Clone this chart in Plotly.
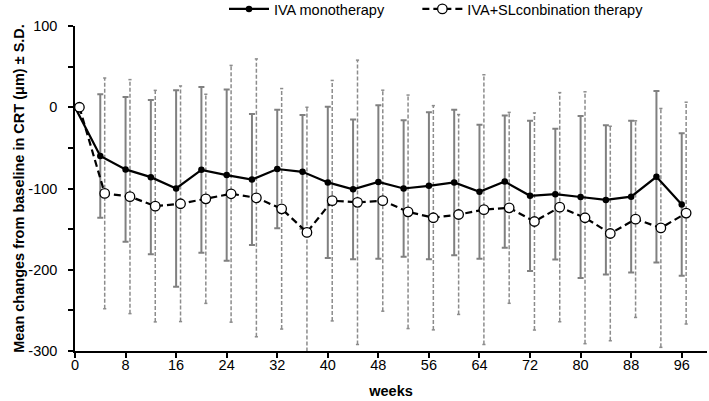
import plotly.graph_objects as go

weeks = [0, 4, 8, 12, 16, 20, 24, 28, 32, 36, 40, 44, 48, 52, 56, 60, 64, 68, 72, 76, 80, 84, 88, 92, 96]
iva_mean = [0, -60, -76.5, -86, -100, -77, -83.5, -89, -76, -79.5, -92.5, -101, -92, -100, -96.7, -92.5,
            -104, -91.5, -109, -107, -110.5, -114, -110, -85.6, -119.7]
iva_sd = [None, 76, 89, 95, 121, 102, 105.5, 80.6, 73, 70, 93, 86, 94.5, 84, 90.4, 89.5,
          82.5, 81.5, 92.4, 80.5, 99.7, 91.7, 93.4, 105.6, 87.7]
combo_mean = [0, -106, -110, -121.7, -118.8, -112.7, -106.5, -111.5, -125, -154, -115, -117, -115, -128.7,
              -136, -132, -126, -123.8, -140.6, -123, -136, -155.4, -137.7, -148.5, -130.3]
combo_sd = [None, 142, 144, 142.5, 145, 128.7, 158, 171, 148, 154, 148, 175, 136, 143.7,
            138, 123, 166, 117.5, 133.6, 141, 155, 132, 121, 147, 136.5]
x_ticks = list(range(0, 97, 8))
y_ticks = [100, 0, -100, -200, -300]
series_names = ["IVA monotherapy", "IVA+SLconbination therapy"]

combo_offset = 0.7
combo_x = [w + combo_offset for w in weeks]

FONT = 14.5

fig = go.Figure()

# solid error bars for IVA monotherapy
iva_err = [0 if s is None else s for s in iva_sd]
fig.add_trace(go.Scatter(
    x=weeks, y=iva_mean, mode="markers", showlegend=False, hoverinfo="skip",
    marker=dict(size=1, color="rgba(0,0,0,0)"),
    error_y=dict(type="data", array=iva_err, visible=True, color="#808080", thickness=2, width=3),
))

# dashed error bars for combination therapy (built as segments)
seg_x, seg_y, cap_x, cap_y = [], [], [], []
cap_half = 0.25
for xv, m, s in zip(combo_x, combo_mean, combo_sd):
    if s is None:
        continue
    lo, hi = m - s, m + s
    seg_x += [xv, xv, None]
    seg_y += [lo, hi, None]
    for yv in (lo, hi):
        if -300 <= yv <= 100:
            cap_x += [xv - cap_half, xv + cap_half, None]
            cap_y += [yv, yv, None]
fig.add_trace(go.Scatter(x=seg_x, y=seg_y, mode="lines", showlegend=False, hoverinfo="skip",
                         line=dict(color="#8c8c8c", width=1.5, dash="4px,2px")))
fig.add_trace(go.Scatter(x=cap_x, y=cap_y, mode="lines", showlegend=False, hoverinfo="skip",
                         line=dict(color="#8c8c8c", width=1.5)))

fig.add_trace(go.Scatter(
    x=weeks, y=iva_mean, mode="lines+markers", name=series_names[0] + "\u00a0" * 7,
    line=dict(color="black", width=2.2),
    marker=dict(size=6.5, color="black", symbol="circle"),
))
fig.add_trace(go.Scatter(
    x=combo_x, y=combo_mean, mode="lines+markers", name=series_names[1],
    line=dict(color="black", width=2.2, dash="7px,4px"),
    marker=dict(size=9.5, color="white", symbol="circle", line=dict(color="black", width=1.3)),
))

fig.update_layout(
    width=709, height=401,
    margin=dict(l=75, r=2, t=26, b=50, autoexpand=False),
    paper_bgcolor="white", plot_bgcolor="white",
    font=dict(family="Liberation Sans, Arial, sans-serif", size=FONT, color="black"),
    legend=dict(orientation="h", x=(224 - 75) / 632, xanchor="left", y=1 + (26 - 9) / 324.7,
                yanchor="middle", font=dict(size=FONT), itemwidth=40, traceorder="normal",
                bgcolor="rgba(0,0,0,0)", tracegroupgap=0),
    showlegend=True,
)
fig.update_xaxes(
    range=[0, 100], tickvals=x_ticks, ticktext=[str(t) for t in x_ticks],
    showline=True, linecolor="black", linewidth=1.5, ticks="outside", ticklen=5,
    tickcolor="black", tickwidth=1.5, showgrid=False, zeroline=False,
    title=dict(text="<b>weeks</b>", font=dict(size=FONT), standoff=14),
    tickfont=dict(size=FONT), ticklabelstandoff=-5,
)
fig.update_yaxes(
    range=[-300, 100], tickvals=y_ticks, ticktext=[str(t) for t in y_ticks],
    showline=True, linecolor="black", linewidth=1.5, ticks="outside", ticklen=5,
    tickcolor="black", tickwidth=1.5, showgrid=False, zeroline=False,
    minor=dict(dtick=50, ticks="outside", ticklen=5, tickcolor="black", tickwidth=1.5, showgrid=False),
    title=dict(text="<b>Mean changes from baseline in CRT (μm) ± S.D.</b>", font=dict(size=FONT), standoff=0),
    tickfont=dict(size=FONT), ticklabelstandoff=8,
)

fig.write_html("out.html", post_script="document.body.style.margin='0';",
               config={"displayModeBar": False})
